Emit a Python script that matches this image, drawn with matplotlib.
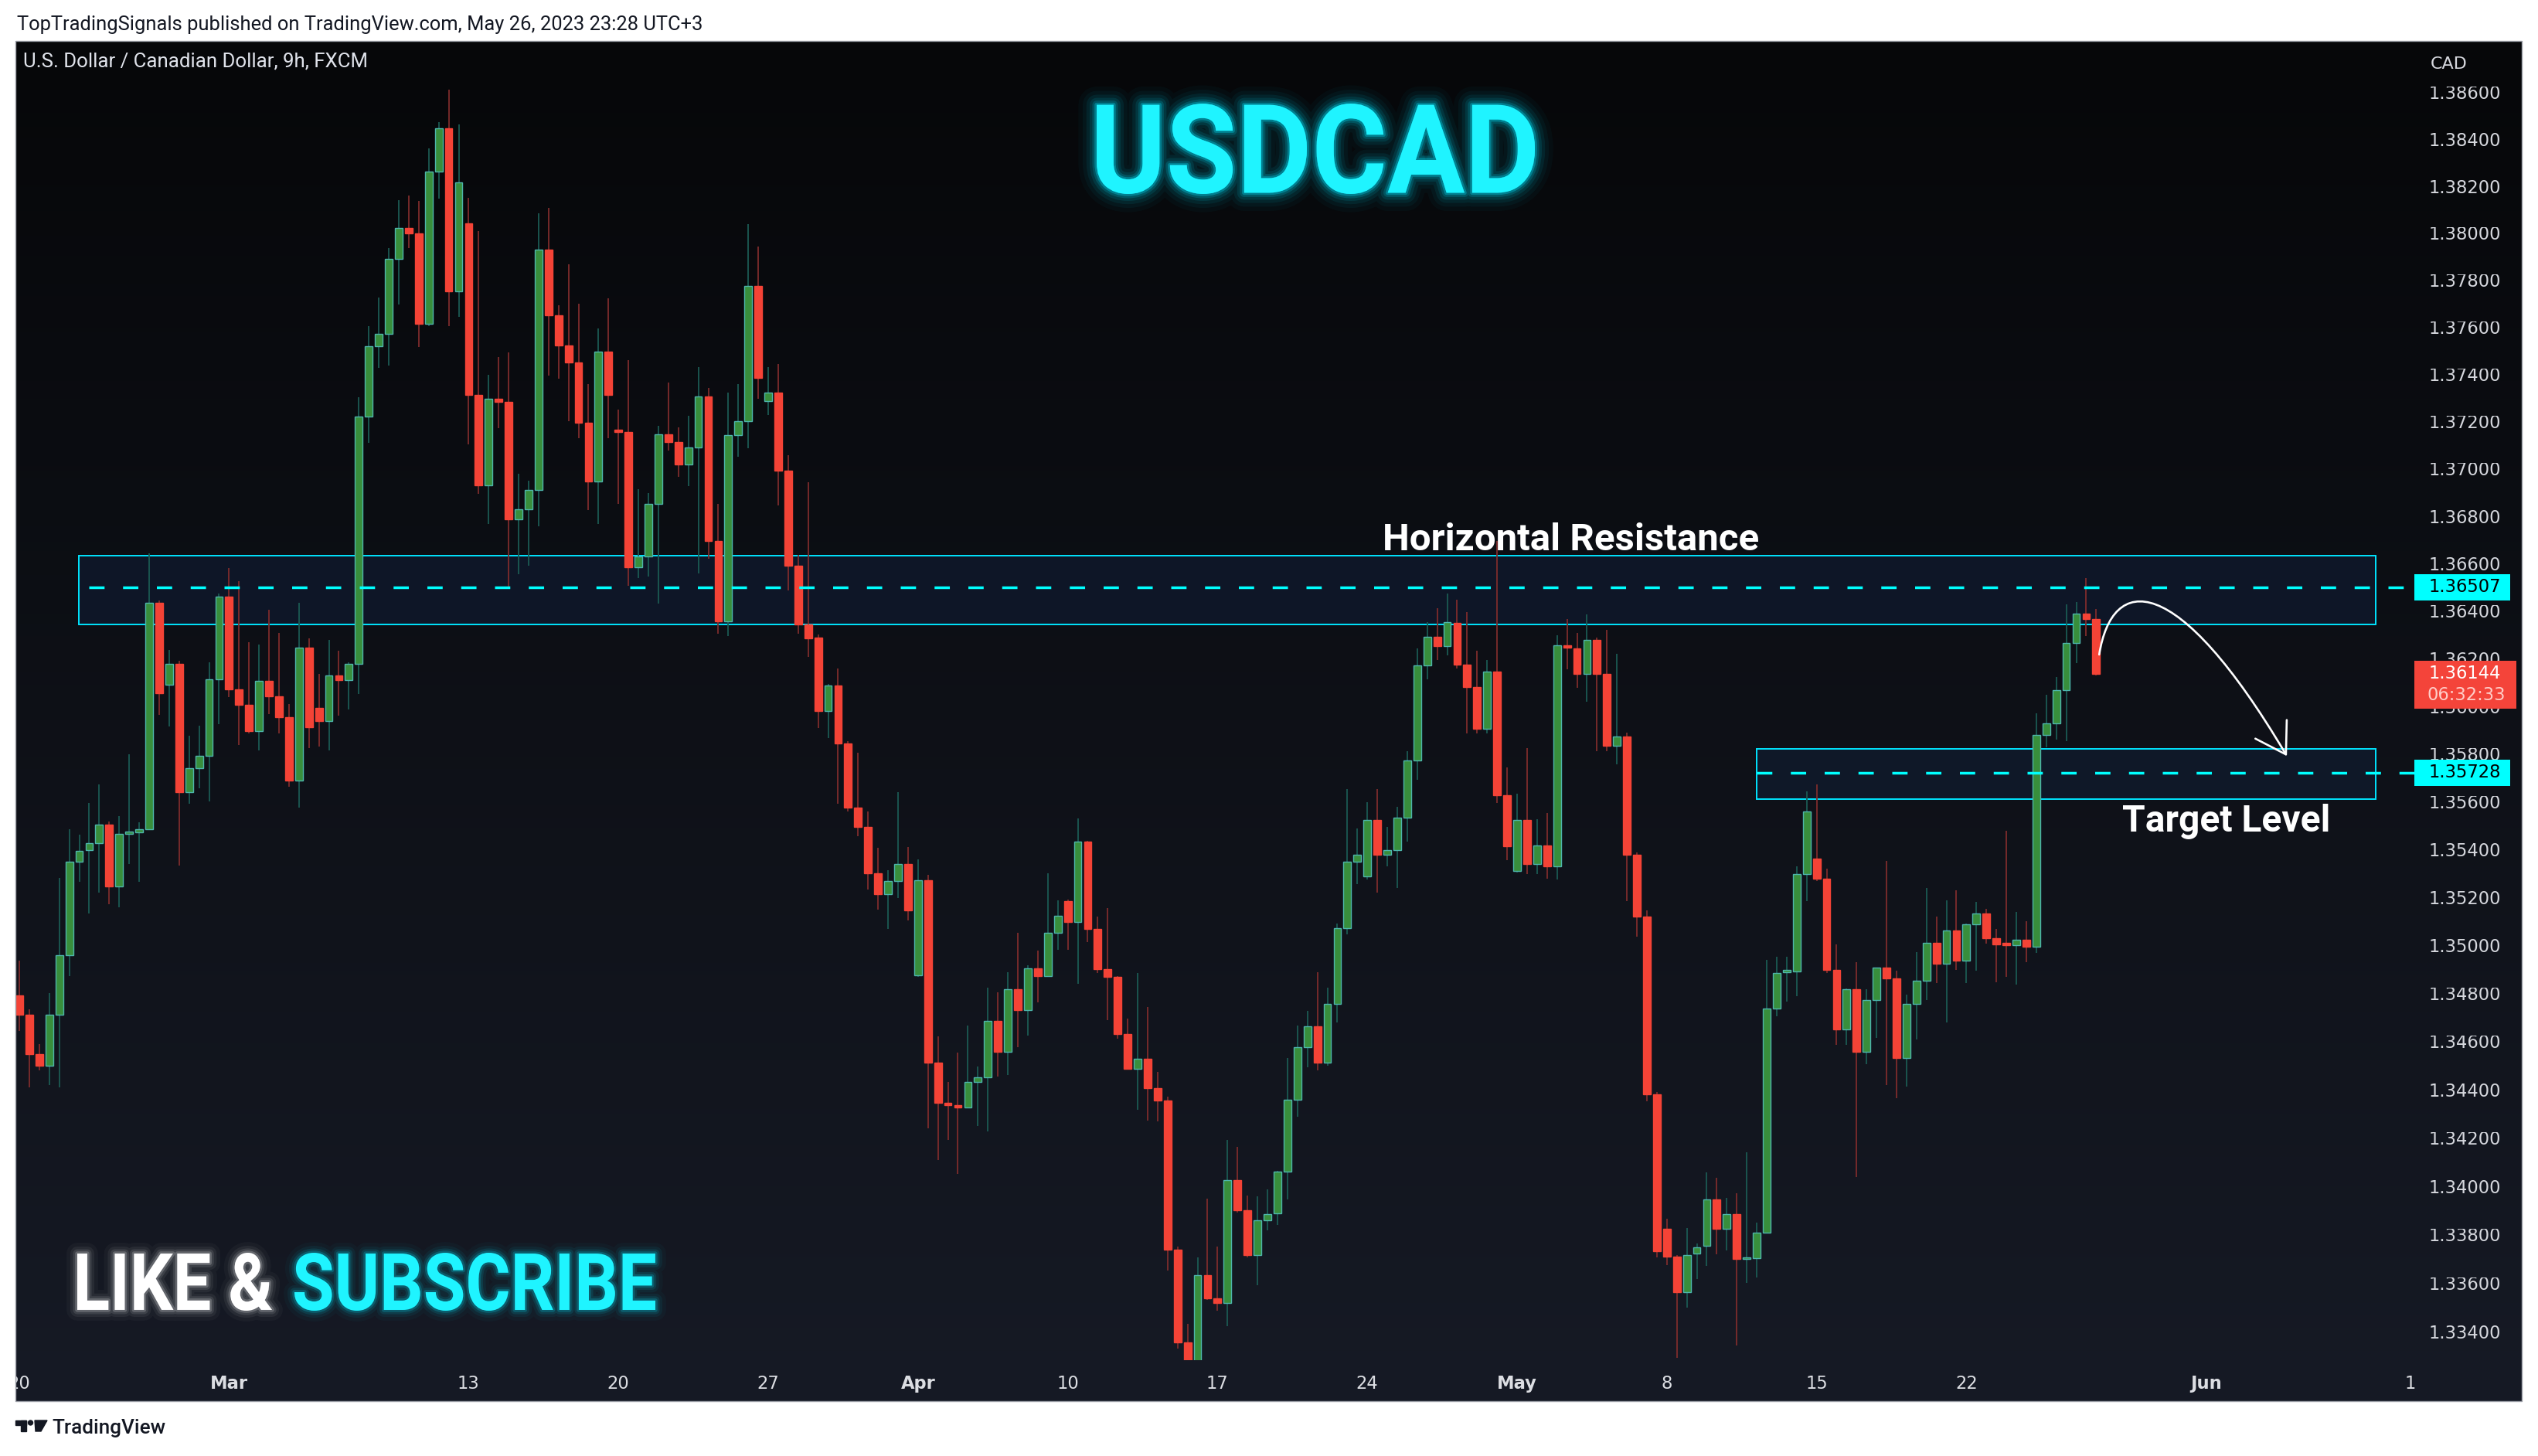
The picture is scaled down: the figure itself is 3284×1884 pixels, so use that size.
import numpy as np
import matplotlib
matplotlib.use("Agg")
import matplotlib.pyplot as plt
from matplotlib.patches import Rectangle, PathPatch, FancyArrowPatch, Polygon, Circle
from matplotlib.path import Path
from matplotlib.textpath import TextPath
from matplotlib.font_manager import FontProperties
from matplotlib.transforms import Affine2D, blended_transform_factory, Bbox
import matplotlib.patheffects as pe

# ---------------------------------------------------------------- data
start_date = "2023-02-20"          # first 9h candle, 3 candles per trading day

opens = [
    1.34798, 1.34717, 1.34555, 1.34507, 1.34720, 1.34967, 1.35356, 1.35403, 1.35432, 1.35511,
    1.35252, 1.35472, 1.35478, 1.35492, 1.36441, 1.36097, 1.36185, 1.35646, 1.35747, 1.35799,
    1.36119, 1.36467, 1.36078, 1.36012, 1.35902, 1.36113, 1.36049, 1.35961, 1.35695, 1.36253,
    1.36000, 1.35944, 1.36136, 1.36117, 1.36185, 1.37229, 1.37528, 1.37578, 1.37898, 1.38030,
    1.38007, 1.37622, 1.38271, 1.38455, 1.37760, 1.38049, 1.37319, 1.36936, 1.37302, 1.37292,
    1.36793, 1.36835, 1.36917, 1.37936, 1.37656, 1.37529, 1.37459, 1.37202, 1.36952, 1.37505,
    1.37167, 1.37163, 1.36592, 1.36636, 1.36860, 1.37154, 1.37121, 1.37026, 1.37096, 1.37315,
    1.36703, 1.36365, 1.37149, 1.37208, 1.37781, 1.37295, 1.37330, 1.36998, 1.36598, 1.36352,
    1.36295, 1.35987, 1.36094, 1.35851, 1.35581, 1.35500, 1.35308, 1.35220, 1.35277, 1.35346,
    1.34884, 1.35280, 1.34521, 1.34353, 1.34344, 1.34334, 1.34440, 1.34459, 1.34692, 1.34565,
    1.34825, 1.34739, 1.34910, 1.34878, 1.35061, 1.35192, 1.35103, 1.35441, 1.35077, 1.34907,
    1.34875, 1.34639, 1.34494, 1.34536, 1.34415, 1.34361, 1.33745, 1.33364, 1.33212, 1.33639,
    1.33544, 1.33524, 1.34032, 1.33908, 1.33722, 1.33868, 1.33894, 1.34067, 1.34364, 1.34585,
    1.34670, 1.34519, 1.34763, 1.35078, 1.35355, 1.35294, 1.35529, 1.35384, 1.35404, 1.35539,
    1.35780, 1.36180, 1.36300, 1.36260, 1.36356, 1.36182, 1.36088, 1.35912, 1.36153, 1.35633,
    1.35317, 1.35531, 1.35348, 1.35425, 1.35337, 1.36263, 1.36250, 1.36142, 1.36287, 1.36142,
    1.35840, 1.35879, 1.35385, 1.35126, 1.34387, 1.33831, 1.33717, 1.33569, 1.33728, 1.33760,
    1.33952, 1.33831, 1.33892, 1.33706, 1.33711, 1.33814, 1.34745, 1.34895, 1.34898, 1.35306,
    1.35368, 1.35285, 1.34906, 1.34658, 1.34823, 1.34565, 1.34781, 1.34914, 1.34868, 1.34539,
    1.34764, 1.34861, 1.35016, 1.34932, 1.35069, 1.34942, 1.35096, 1.35139, 1.35038, 1.35012,
    1.35007, 1.35029, 1.35003, 1.35886, 1.35936, 1.36073, 1.36272, 1.36395, 1.36373,
]
highs = [
    1.34944, 1.34742, 1.34595, 1.34810, 1.35289, 1.35493, 1.35469, 1.35603, 1.35680, 1.35523,
    1.35548, 1.35807, 1.35521, 1.36650, 1.36453, 1.36242, 1.36198, 1.35884, 1.35927, 1.36192,
    1.36482, 1.36589, 1.36534, 1.36277, 1.36267, 1.36413, 1.36315, 1.36016, 1.36442, 1.36292,
    1.36142, 1.36286, 1.36239, 1.36193, 1.37310, 1.37613, 1.37733, 1.37943, 1.38147, 1.38166,
    1.38145, 1.38368, 1.38481, 1.38620, 1.38471, 1.38157, 1.38016, 1.37404, 1.37481, 1.37501,
    1.36986, 1.36956, 1.38093, 1.38114, 1.37700, 1.37874, 1.37707, 1.37365, 1.37601, 1.37730,
    1.37257, 1.37467, 1.36921, 1.36905, 1.37188, 1.37372, 1.37182, 1.37232, 1.37437, 1.37349,
    1.36858, 1.37330, 1.37365, 1.38046, 1.37950, 1.37437, 1.37451, 1.37065, 1.36645, 1.36950,
    1.36309, 1.36099, 1.36166, 1.35859, 1.35811, 1.35567, 1.35415, 1.35322, 1.35646, 1.35418,
    1.35365, 1.35300, 1.34628, 1.34439, 1.34560, 1.34673, 1.34504, 1.34830, 1.34811, 1.34896,
    1.35060, 1.34924, 1.34985, 1.35308, 1.35194, 1.35197, 1.35536, 1.35442, 1.35128, 1.35162,
    1.34878, 1.34703, 1.34893, 1.34752, 1.34482, 1.34378, 1.33759, 1.33438, 1.33714, 1.33957,
    1.33759, 1.34200, 1.34169, 1.33970, 1.33966, 1.33994, 1.34072, 1.34539, 1.34672, 1.34735,
    1.34896, 1.34832, 1.35098, 1.35660, 1.35495, 1.35605, 1.35660, 1.35501, 1.35585, 1.35820,
    1.36250, 1.36360, 1.36420, 1.36480, 1.36454, 1.36404, 1.36241, 1.36202, 1.36701, 1.35750,
    1.35640, 1.35831, 1.35533, 1.35560, 1.36305, 1.36373, 1.36316, 1.36393, 1.36296, 1.36329,
    1.36228, 1.35897, 1.35396, 1.35154, 1.34398, 1.33872, 1.33724, 1.33836, 1.33771, 1.34065,
    1.34043, 1.33959, 1.33978, 1.34149, 1.33857, 1.34947, 1.34960, 1.34960, 1.35336, 1.35650,
    1.35679, 1.35327, 1.35010, 1.34827, 1.34937, 1.34823, 1.34914, 1.35358, 1.34902, 1.34801,
    1.34979, 1.35246, 1.35128, 1.35195, 1.35237, 1.35099, 1.35187, 1.35160, 1.35075, 1.35485,
    1.35147, 1.35108, 1.35977, 1.36055, 1.36130, 1.36435, 1.36446, 1.36546, 1.36416,
]
lows = [
    1.34651, 1.34417, 1.34488, 1.34425, 1.34417, 1.34878, 1.35271, 1.35141, 1.35227, 1.35178,
    1.35166, 1.35348, 1.35271, 1.35487, 1.35970, 1.35923, 1.35339, 1.35597, 1.35662, 1.35607,
    1.35933, 1.36045, 1.35844, 1.35893, 1.35823, 1.35975, 1.35893, 1.35670, 1.35581, 1.35831,
    1.35839, 1.35821, 1.35967, 1.35994, 1.36058, 1.37116, 1.37434, 1.37444, 1.37705, 1.37945,
    1.37524, 1.37613, 1.38155, 1.37613, 1.37652, 1.37110, 1.36903, 1.36774, 1.37180, 1.36510,
    1.36563, 1.36598, 1.36765, 1.37401, 1.37388, 1.37210, 1.37137, 1.36833, 1.36775, 1.37137,
    1.36860, 1.36514, 1.36546, 1.36553, 1.36439, 1.37085, 1.36974, 1.36935, 1.36567, 1.36628,
    1.36313, 1.36302, 1.37059, 1.37093, 1.37304, 1.37235, 1.36853, 1.36495, 1.36313, 1.36213,
    1.35917, 1.35872, 1.35597, 1.35565, 1.35462, 1.35240, 1.35156, 1.35074, 1.35205, 1.35111,
    1.34876, 1.34248, 1.34117, 1.34199, 1.34059, 1.34329, 1.34258, 1.34234, 1.34462, 1.34469,
    1.34584, 1.34633, 1.34769, 1.34878, 1.34990, 1.34990, 1.34848, 1.35022, 1.34891, 1.34695,
    1.34620, 1.34491, 1.34325, 1.34279, 1.34276, 1.33659, 1.33338, 1.33134, 1.33036, 1.33538,
    1.33493, 1.33429, 1.33899, 1.33713, 1.33599, 1.33824, 1.33847, 1.33953, 1.34294, 1.34499,
    1.34487, 1.34505, 1.34685, 1.35052, 1.35264, 1.35281, 1.35226, 1.35337, 1.35246, 1.35441,
    1.35700, 1.36120, 1.36200, 1.36220, 1.36164, 1.35892, 1.35892, 1.35892, 1.35601, 1.35361,
    1.35310, 1.35306, 1.35306, 1.35285, 1.35281, 1.36162, 1.36083, 1.36026, 1.35818, 1.35820,
    1.35765, 1.35193, 1.35042, 1.34358, 1.33713, 1.33681, 1.33300, 1.33506, 1.33625, 1.33679,
    1.33726, 1.33741, 1.33349, 1.33607, 1.33631, 1.33814, 1.34712, 1.34773, 1.34796, 1.35192,
    1.35275, 1.34892, 1.34594, 1.34594, 1.34046, 1.34513, 1.34621, 1.34425, 1.34371, 1.34419,
    1.34615, 1.34780, 1.34850, 1.34687, 1.34905, 1.34850, 1.34902, 1.35014, 1.34854, 1.34876,
    1.34844, 1.34937, 1.34975, 1.35835, 1.35867, 1.35862, 1.36189, 1.36302, 1.36135,
]
closes = [
    1.34717, 1.34555, 1.34507, 1.34720, 1.34967, 1.35356, 1.35400, 1.35432, 1.35511, 1.35252,
    1.35472, 1.35478, 1.35492, 1.36441, 1.36061, 1.36185, 1.35646, 1.35747, 1.35799, 1.36119,
    1.36467, 1.36078, 1.36012, 1.35902, 1.36113, 1.36049, 1.35961, 1.35695, 1.36253, 1.35918,
    1.35944, 1.36136, 1.36117, 1.36185, 1.37229, 1.37528, 1.37578, 1.37898, 1.38030, 1.38007,
    1.37622, 1.38271, 1.38455, 1.37760, 1.38222, 1.37319, 1.36936, 1.37302, 1.37290, 1.36793,
    1.36835, 1.36917, 1.37936, 1.37656, 1.37529, 1.37459, 1.37202, 1.36952, 1.37505, 1.37319,
    1.37163, 1.36592, 1.36636, 1.36860, 1.37154, 1.37121, 1.37026, 1.37096, 1.37315, 1.36703,
    1.36365, 1.37149, 1.37208, 1.37781, 1.37393, 1.37330, 1.36998, 1.36598, 1.36352, 1.36293,
    1.35987, 1.36094, 1.35851, 1.35581, 1.35500, 1.35308, 1.35220, 1.35277, 1.35346, 1.35154,
    1.35280, 1.34521, 1.34353, 1.34344, 1.34334, 1.34440, 1.34459, 1.34692, 1.34565, 1.34825,
    1.34739, 1.34910, 1.34878, 1.35061, 1.35130, 1.35103, 1.35441, 1.35077, 1.34907, 1.34875,
    1.34639, 1.34494, 1.34536, 1.34415, 1.34361, 1.33745, 1.33364, 1.33212, 1.33639, 1.33544,
    1.33524, 1.34032, 1.33908, 1.33722, 1.33868, 1.33891, 1.34067, 1.34364, 1.34585, 1.34670,
    1.34519, 1.34763, 1.35078, 1.35355, 1.35384, 1.35529, 1.35384, 1.35404, 1.35539, 1.35780,
    1.36180, 1.36300, 1.36260, 1.36360, 1.36182, 1.36088, 1.35912, 1.36153, 1.35633, 1.35420,
    1.35531, 1.35348, 1.35425, 1.35337, 1.36263, 1.36252, 1.36142, 1.36287, 1.36142, 1.35840,
    1.35879, 1.35385, 1.35126, 1.34387, 1.33739, 1.33717, 1.33569, 1.33724, 1.33756, 1.33952,
    1.33831, 1.33892, 1.33706, 1.33711, 1.33814, 1.34745, 1.34893, 1.34898, 1.35306, 1.35565,
    1.35285, 1.34906, 1.34658, 1.34823, 1.34565, 1.34781, 1.34914, 1.34868, 1.34539, 1.34764,
    1.34861, 1.35016, 1.34932, 1.35069, 1.34942, 1.35096, 1.35139, 1.35038, 1.35012, 1.35007,
    1.35029, 1.35003, 1.35886, 1.35936, 1.36073, 1.36272, 1.36395, 1.36373, 1.36144,
]

price_ticks = [1.334 + 0.002 * k for k in range(27)]
date_tick_dates = ["2023-02-20", "2023-03-01", "2023-03-13", "2023-03-20", "2023-03-27",
                   "2023-04-03", "2023-04-10", "2023-04-17", "2023-04-24", "2023-05-01",
                   "2023-05-08", "2023-05-15", "2023-05-22", "2023-06-01", "2023-06-12"]
date_tick_labels = ["20", "Mar", "13", "20", "27", "Apr", "10", "17", "24", "May",
                    "8", "15", "22", "Jun", "12"]
month_labels = ["Mar", "Apr", "May", "Jun"]

resistance_level = 1.36507
resistance_top = 1.36639
resistance_bottom = 1.36351
target_level = 1.35728
target_top = 1.35827
target_bottom = 1.35618
res_box_start = 5.94      # bar index where the resistance box starts
res_line_start = 6.97
tgt_box_start = 173.97
box_end = 236.0
countdown = "06:32:33"

# ---------------------------------------------------------------- layout
W, H, DPI = 3284, 1884, 100
XL, XR = -0.39, 239.94
YB, YT = 1.33290, 1.38828          # logarithmic price scale
PLOT_L, PLOT_T, PLOT_R, PLOT_B = 20, 53, 3125, 1760
K = (PLOT_B - PLOT_T) / np.log(YT / YB)     # pixels per unit of ln(price)


def shift(p, dpx):
    """price that sits dpx pixels above p on the log scale"""
    return p * np.exp(dpx / K)


fig = plt.figure(figsize=(W / DPI, H / DPI), dpi=DPI)
fig.patch.set_facecolor("white")
px = Affine2D().scale(1.0 / W, 1.0 / H) + fig.transFigure
renderer = fig.canvas.get_renderer()


def frac_rect(x0, y0, x1, y1):
    return [x0 / W, 1 - y1 / H, (x1 - x0) / W, (y1 - y0) / H]


def fit_text(x, y, s, width, **kw):
    t = fig.text(x / W, 1 - y / H, s, fontsize=20, **kw)
    w = t.get_window_extent(renderer).width
    t.set_fontsize(20 * width / w)
    return t


def glow_text(s, box, face, glow, strokes):
    x0, y0, x1, y1 = box
    tp = TextPath((0, 0), s, size=100, prop=FontProperties(family="Roboto", weight="bold"))
    e = tp.get_extents()
    tr = (Affine2D().translate(-e.x0, -e.y0)
          .scale((x1 - x0) / e.width, (y1 - y0) / e.height)
          .translate(x0, H - y1))
    patch = PathPatch(tr.transform_path(tp), facecolor=face, edgecolor="none",
                      transform=px, zorder=30)
    effects = [pe.Stroke(linewidth=lw, foreground=glow, alpha=a, joinstyle="round")
               for lw, a in strokes]
    patch.set_path_effects(effects + [pe.Normal()])
    fig.add_artist(patch)


# background panel with vertical gradient
bg = fig.add_axes(frac_rect(20, 53, 3263, 1813))
bg.set_axis_off()
g = np.linspace(0, 1, 512)[:, None, None]
c_top = np.array([6, 7, 9]) / 255.0
c_bot = np.array([22, 26, 37]) / 255.0
bg.imshow(c_top + (c_bot - c_top) * g, aspect="auto", extent=[0, 1, 0, 1],
          interpolation="bilinear")
bg.set_xlim(0, 1)
bg.set_ylim(0, 1)

# main price axes
ax = fig.add_axes(frac_rect(PLOT_L, PLOT_T, PLOT_R, PLOT_B))
ax.set_yscale("log")
ax.set_axis_off()
ax.set_xlim(XL, XR)
ax.set_ylim(YB, YT)

o = np.array(opens)
h = np.array(highs)
l = np.array(lows)
c = np.array(closes)
n = len(c)
x = np.arange(n)
up = c >= o

# zones
ax.add_patch(Rectangle((res_box_start, resistance_bottom), box_end - res_box_start,
                       resistance_top - resistance_bottom, facecolor="#0e1627",
                       edgecolor="#00e5ff", linewidth=1.4, zorder=1))
ax.add_patch(Rectangle((tgt_box_start, target_bottom), box_end - tgt_box_start,
                       target_top - target_bottom, facecolor="#0f1828",
                       edgecolor="#00e5ff", linewidth=1.4, zorder=1))

# candles
wick_cols = ["#1b5a53" if u else "#7e2c2c" for u in up]
ax.vlines(x, l, h, colors=wick_cols, linewidth=1.3, zorder=3)
body_bottom = np.minimum(o, c)
body_h = np.maximum(np.abs(c - o), 0.00009)
ax.bar(x, body_h, bottom=body_bottom, width=0.76,
       color=["#388e3c" if u else "#f44336" for u in up],
       edgecolor=["#4db6ac" if u else "#f44336" for u in up],
       linewidth=1.0, zorder=4)

# dashed levels
ax.plot([res_line_start, XR], [resistance_level] * 2, color="#00ffff", lw=2.5,
        dashes=(5.7, 6.9), zorder=6)
ax.plot([tgt_box_start, XR], [target_level] * 2, color="#00ffff", lw=2.5,
        dashes=(5.7, 6.9), zorder=6)

# forecast arrow
last = n - 1
verts = [(last + 0.3, c[-1] + 0.0008), (last + 1.6, c[-1] + 0.0042),
         (last + 8.0, c[-1] + 0.0044), (last + 19.1, target_level + 0.0007)]
arrow = FancyArrowPatch(path=Path(verts, [Path.MOVETO, Path.CURVE4, Path.CURVE4, Path.CURVE4]),
                        arrowstyle="->,head_length=0.8,head_width=0.5",
                        mutation_scale=34, color="white", lw=1.9, zorder=8)
ax.add_patch(arrow)

# price axis
axp = fig.add_axes(frac_rect(PLOT_R, PLOT_T, 3263, PLOT_B), sharey=ax)
axp.set_axis_off()
axp.set_xlim(0, 1)
lab_x = (3143 - PLOT_R) / (3263 - PLOT_R)
mix = blended_transform_factory(axp.transAxes, axp.transData)
label_font = dict(fontsize=16.3, family="DejaVu Sans")

covers = []  # price intervals hidden by the coloured labels
hh = 16.7
for lvl in (resistance_level, target_level):
    lo, hi = shift(lvl, -hh), shift(lvl, hh)
    covers.append((lo, hi))
    axp.add_patch(Rectangle((-0.01, lo), 0.90, hi - lo, transform=mix,
                            facecolor="#00ffff", edgecolor="none", zorder=5, clip_on=False))
    axp.text(lab_x, lvl, f"{lvl:.5f}", ha="left", va="center", color="black",
             zorder=6, **label_font)
lo, hi = shift(c[-1], -45), shift(c[-1], 17)
covers.append((lo, hi))
axp.add_patch(Rectangle((-0.01, lo), 0.96, hi - lo, transform=mix,
                        facecolor="#f4443a", edgecolor="none", zorder=5, clip_on=False))
axp.text(lab_x, c[-1], f"{c[-1]:.5f}", ha="left", va="center", color="white",
         zorder=6, **label_font)
axp.text(lab_x - 0.015, shift(c[-1], -28), countdown, ha="left", va="center",
         color="#ffcdc8", zorder=6, **label_font)

x_disp0 = fig.transFigure.transform((PLOT_R / W, 0))[0]
x_disp1 = fig.transFigure.transform((1.0, 0))[0]
for v in price_ticks:
    t = axp.text(lab_x, v, f"{v:.5f}", ha="left", va="center", color="#d6d8de",
                 zorder=2, **label_font)
    yc = ax.transData.transform((0, v))[1]
    y0, y1 = yc - 10, yc + 10
    for lo, hi in covers:
        blo = ax.transData.transform((0, lo))[1]
        bhi = ax.transData.transform((0, hi))[1]
        if bhi > y0 and blo < y1:          # partially hidden behind a label
            if (y1 - bhi) >= (blo - y0):
                y0 = bhi
            else:
                y1 = blo
    t.set_clip_box(Bbox.from_extents(x_disp0, y0, x_disp1, y1))
    t.set_clip_on(True)

fig.text(3145 / W, 1 - 89 / H, "CAD", ha="left", va="baseline", color="#d6d8de",
         fontsize=16, family="DejaVu Sans")

# time axis
axt = fig.add_axes(frac_rect(PLOT_L, PLOT_B, PLOT_R, 1813), sharex=ax)
axt.set_axis_off()
axt.set_ylim(0, 1)
for d, lab in zip(date_tick_dates, date_tick_labels):
    xi = int(np.busday_count(start_date, d)) * 3
    t = axt.text(xi, (1813 - 1797) / (1813 - PLOT_B), lab, ha="center", va="baseline",
                 color="#dcdee3", fontsize=16.3, family="DejaVu Sans",
                 fontweight="bold" if lab in month_labels else "normal")
    t.set_clip_box(axt.bbox)
    t.set_clip_on(True)

# panel border
fig.add_artist(Rectangle((20, H - 1813), 3243, 1760, transform=px, fill=False,
                         edgecolor="#9a9da5", linewidth=1.0, zorder=40))

# texts
fit_text(22, 39.5, "TopTradingSignals published on TradingView.com, May 26, 2023 23:28 UTC+3",
         884, ha="left", va="baseline", color="#131722", family="Roboto")
fit_text(30, 87, "U.S. Dollar / Canadian Dollar, 9h, FXCM", 446, ha="left",
         va="baseline", color="#e0e3eb", family="Roboto")
fit_text(2033, 712, "Horizontal Resistance", 486, ha="center", va="baseline",
         color="white", family="Roboto", fontweight="bold", zorder=30)
fit_text(2881, 1076, "Target Level", 268, ha="center", va="baseline",
         color="white", family="Roboto", fontweight="bold", zorder=30)

glow_text("USDCAD", (1419, 134, 1986, 251), "#1ff4ff", "#00e5ff",
          [(34, 0.03), (26, 0.045), (19, 0.07), (13, 0.10), (8, 0.16), (4, 0.3)])
glow_text("LIKE &", (100, 1621, 352, 1696), "#ffffff", "#ffffff",
          [(20, 0.03), (13, 0.06), (8, 0.10), (4, 0.2)])
glow_text("SUBSCRIBE", (381, 1621, 848, 1696), "#1ff4ff", "#00e5ff",
          [(20, 0.03), (13, 0.06), (8, 0.10), (4, 0.2)])

# TradingView footer logo
logo_col = "#131722"
fig.add_artist(Rectangle((20, H - 1844), 14, 6, transform=px, color=logo_col))
fig.add_artist(Rectangle((27, H - 1852), 7, 14, transform=px, color=logo_col))
fig.add_artist(Circle((39.5, H - 1841), 3.0, transform=px, color=logo_col))
fig.add_artist(Polygon([(45, H - 1838), (61, H - 1838), (53, H - 1852), (46, H - 1852)],
                       closed=True, transform=px, color=logo_col))
fit_text(67, 1855, "TradingView", 147, ha="left", va="baseline", color=logo_col,
         family="Roboto", fontweight="medium")

fig.savefig("out.png", dpi=DPI, facecolor="white")
